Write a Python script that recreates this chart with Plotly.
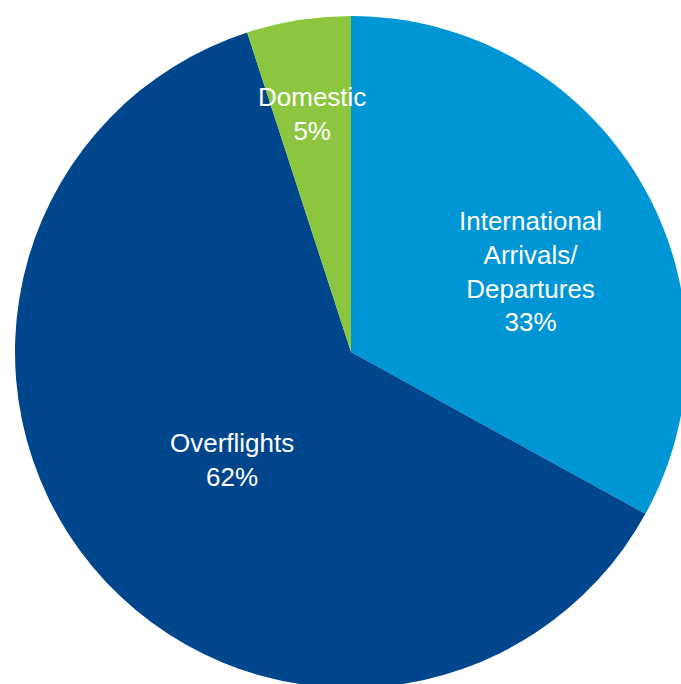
import plotly.graph_objects as go

# Flight mix by category
categories = ["International<br>Arrivals/<br>Departures", "Overflights", "Domestic"]
shares = [33, 62, 5]
colors = ["#0095d5", "#00468c", "#8cc63f"]

# Label anchor points (pixels from top-left of the canvas)
label_px = [(530, 271), (232, 460), (312, 114)]

W, H = 702, 704
fig = go.Figure(
    go.Pie(
        labels=categories,
        values=shares,
        sort=False,
        direction="clockwise",
        rotation=0,
        marker=dict(colors=colors, line=dict(width=0)),
        textinfo="none",
        hoverinfo="label+percent",
        domain=dict(x=[15 / W, 687 / W], y=[(H - 688) / H, (H - 16) / H]),
        showlegend=False,
    )
)

for name, val, (px, py) in zip(categories, shares, label_px):
    fig.add_annotation(
        x=px / W, y=1 - py / H, xref="paper", yref="paper",
        text=f"{name}<br>{val}%", showarrow=False,
        font=dict(family="Liberation Sans, Arial, sans-serif", size=26, color="white"),
        align="center", xanchor="center", yanchor="middle",
    )

fig.update_layout(
    width=W, height=H,
    margin=dict(l=0, r=0, t=0, b=0),
    paper_bgcolor="white", plot_bgcolor="white",
)

fig.write_html(
    "out.html",
    post_script="document.body.style.margin='0';document.body.style.overflow='hidden';document.documentElement.style.overflow='hidden';",
)
